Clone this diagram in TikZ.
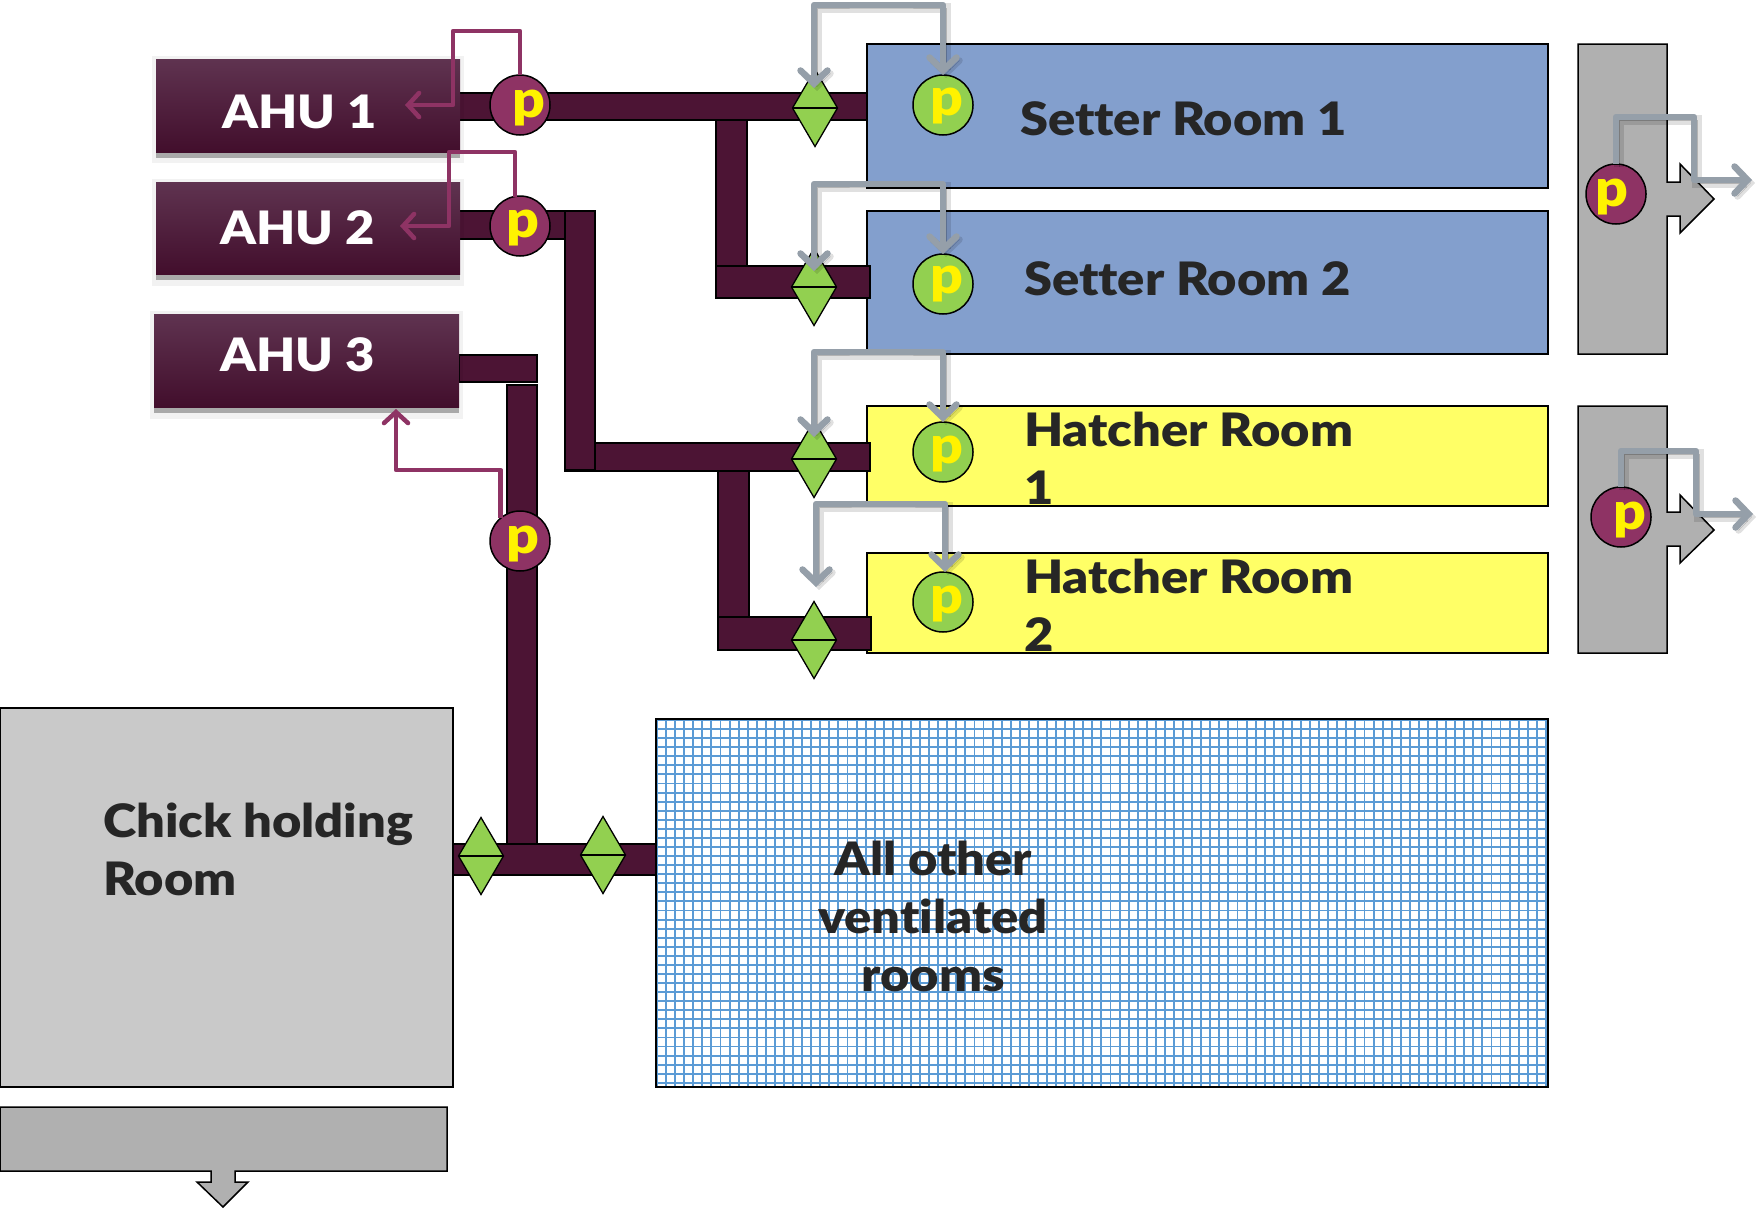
\documentclass[tikz,border=0pt]{standalone}
\usepackage{fontspec}
\setmainfont{Lato}[BoldFont={Lato Black},BoldFeatures={FakeStretch=1.1},Ligatures=NoCommon]
\usetikzlibrary{arrows.meta,shapes.geometric,shadows}
\definecolor{pipec}{HTML}{4C1434}
\definecolor{pumpc}{HTML}{8E3364}
\definecolor{greenc}{HTML}{92D050}
\definecolor{bluec}{HTML}{839FCD}
\definecolor{yellowc}{HTML}{FFFF66}
\definecolor{panelc}{HTML}{B0B0B0}
\definecolor{chickc}{HTML}{C9C9C9}
\definecolor{gridc}{HTML}{5B9BD5}
\definecolor{greyline}{HTML}{959FA9}
\definecolor{textc}{HTML}{262626}
\definecolor{ahutop}{HTML}{5F3350}
\definecolor{ahubot}{HTML}{420E2C}
\tikzset{
 bigtext/.style={font=\fontsize{46}{58}\selectfont\bfseries,text=textc,inner sep=0pt},
 ahubox/.style={rectangle,draw=none,inner sep=0pt,outer sep=0pt,top color=ahutop,bottom color=ahubot,
   drop shadow={shadow xshift=0pt,shadow yshift=-6pt,fill=black,opacity=.3}},
 halo/.style={fill=black,opacity=.05},
 ahutext/.style={font=\fontsize{46}{58}\selectfont\bfseries,text=white,inner sep=0pt,anchor=base west},
 pipe/.style={fill=pipec,draw=black,line width=1.4pt},
 room/.style={draw=black,line width=1.5pt,outer sep=0pt},
 pumpnode/.style={circle,draw=black,line width=1.5pt,minimum size=60pt,inner sep=0pt,outer sep=0pt},
 ptext/.style={font=\fontsize{52}{52}\selectfont\bfseries,text=yellow,inner sep=0pt},
 valve/.style={diamond,draw=black,fill=greenc,line width=1.3pt,minimum width=45pt,minimum height=77pt,inner sep=0pt,outer sep=0pt},
 purplearrow/.style={draw=pumpc,line width=4.5pt,line join=round,-{Straight Barb[length=11pt,width=24pt,line width=4.5pt,line cap=round]}},
 greytip/.style={line width=6.5pt,line join=round,
   preaction={draw=black,draw opacity=.12,line width=10pt,transform canvas={xshift=3pt,yshift=-3pt}},
   preaction={draw=black,draw opacity=.2,transform canvas={xshift=3pt,yshift=-3pt}}},
 greyarrow/.style={greytip,draw=greyline,
   {Straight Barb[length=13pt,width=27pt,line width=6.5pt,line cap=round]}-{Straight Barb[length=13pt,width=27pt,line width=6.5pt,line cap=round]}},
 greyarrowone/.style={greytip,draw=greyline,
   -{Straight Barb[length=13pt,width=27pt,line width=6.5pt,line cap=round]}},
}
\begin{document}
\begin{tikzpicture}[x=1pt,y=-1pt]
\useasboundingbox (0,0) rectangle (1760,1210);
% rooms
\node[room,fill=bluec,anchor=north west,inner sep=0pt,minimum width=681pt,minimum height=144pt] (setter1) at (867,44) {};
\node[room,fill=bluec,anchor=north west,inner sep=0pt,minimum width=681pt,minimum height=143pt] (setter2) at (867,211) {};
\node[room,fill=yellowc,anchor=north west,inner sep=0pt,minimum width=681pt,minimum height=100pt] (hatch1) at (867,406) {};
\node[room,fill=yellowc,anchor=north west,inner sep=0pt,minimum width=681pt,minimum height=100pt] (hatch2) at (867,553) {};
\node[room,fill=chickc,anchor=north west,inner sep=0pt,minimum width=453pt,minimum height=379pt] (chick) at (0,708) {};
% grid room
\fill[white] (656,719) rectangle (1548,1087);
\begin{scope}
\clip (656,719) rectangle (1548,1087);
\foreach \i in {0,...,99} {\draw[gridc,line width=1.9pt] ({657+9.07*\i},719) -- ({657+9.07*\i},1087);}
\foreach \i in {0,...,41} {\draw[gridc,line width=1.9pt] (656,{720+9.07*\i}) -- (1548,{720+9.07*\i});}
\end{scope}
\node[room,anchor=north west,inner sep=0pt,minimum width=892pt,minimum height=368pt] (others) at (656,719) {};
% exhaust panels
\draw[room,fill=panelc] (1578,44) -- (1667,44) -- (1667,182) -- (1680,182) -- (1680,164) -- (1714,199) -- (1680,233) -- (1680,216) -- (1667,216) -- (1667,354) -- (1578,354) -- cycle;
\draw[room,fill=panelc] (1578,406) -- (1667,406) -- (1667,512) -- (1680,512) -- (1680,495) -- (1714,530) -- (1680,563) -- (1680,546) -- (1667,546) -- (1667,653) -- (1578,653) -- cycle;
\draw[room,fill=panelc] (0,1107) -- (447,1107) -- (447,1171) -- (235,1171) -- (235,1182) -- (248,1182) -- (223,1207) -- (197,1182) -- (211,1182) -- (211,1171) -- (0,1171) -- cycle;
% pipes
\draw[pipe] (716,120) rectangle (747,266);
\draw[pipe] (716,266) rectangle (870,298);
\draw[pipe] (457,93) rectangle (867,120);
\draw[pipe] (457,211) rectangle (565,239);
\draw[pipe] (718,471) rectangle (749,617);
\draw[pipe] (718,617) rectangle (871,650);
\draw[pipe] (565,443) rectangle (870,471);
\draw[pipe] (565,211) rectangle (595,470);
\draw[pipe] (459,355) rectangle (537,382);
\draw[pipe] (507,385) rectangle (537,844);
\draw[pipe] (453,844) rectangle (656,875);
% AHU
\fill[halo] (152,56) rectangle (464,163);
\fill[halo] (152,179) rectangle (464,286);
\fill[halo] (150,311) rectangle (463,419);
\node[ahubox,anchor=north west,minimum width=304pt,minimum height=93pt] (ahu1) at (156,59) {};
\node[ahubox,anchor=north west,minimum width=304pt,minimum height=92pt] (ahu2) at (156,182) {};
\node[ahubox,anchor=north west,minimum width=305pt,minimum height=93pt] (ahu3) at (154,314) {};
\node[ahutext] (ahu1t) at (222,128) {AHU 1};
\node[ahutext] (ahu2t) at (220,244) {AHU 2};
\node[ahutext] (ahu3t) at (220,371) {AHU 3};
% valves
\foreach \n/\x/\y in {v1/815/108,v2/814/287,v3/814/459,v4/814/640,v5/481/856,v6/603/855}{
  \node[valve] (\n) at (\x,\y) {};
  \draw[line width=1.3pt] (\n.west) -- (\n.east);
}
% pumps
\node[pumpnode,fill=pumpc] (p1) at (520,105) {};
\node[pumpnode,fill=pumpc] (p2) at (520,226) {};
\node[pumpnode,fill=pumpc] (p3) at (520,541) {};
\node[pumpnode,fill=pumpc] (p4) at (1616,194) {};
\node[pumpnode,fill=pumpc] (p5) at (1621,517) {};
\node[pumpnode,fill=greenc] (g1) at (943,105) {};
\node[pumpnode,fill=greenc] (g2) at (943,284) {};
\node[pumpnode,fill=greenc] (g3) at (943,452) {};
\node[pumpnode,fill=greenc] (g4) at (943,602) {};
\node[ptext] (p1t) at (529,108) {p};
\node[ptext] (p2t) at (523,228) {p};
\node[ptext] (p3t) at (523,544) {p};
\node[ptext] (p4t) at (1612,197) {p};
\node[ptext] (p5t) at (1630,520) {p};
\node[ptext] (g1t) at (947,106) {p};
\node[ptext] (g2t) at (947,284) {p};
\node[ptext] (g3t) at (947,454) {p};
\node[ptext] (g4t) at (947,604) {p};
% purple arrows
\coordinate (c1a) at (453,31); \coordinate (c1b) at (405,105);
\draw[purplearrow] (p1.north) |- (c1a) |- (c1b);
\coordinate (c2a) at (449,152); \coordinate (c2b) at (400,226); \coordinate (c2s) at (515,197);
\draw[purplearrow] (c2s) |- (c2a) |- (c2b);
\coordinate (c3a) at (396,470); \coordinate (c3b) at (396,409);
\draw[purplearrow] (p3.130) |- (c3a) -- (c3b);
% grey arrows
\coordinate (a1v) at (814,88); \coordinate (a1t) at (878,5);
\draw[greyarrow] (a1v) |- (a1t) -| (g1.north);
\coordinate (a2v) at (814,271); \coordinate (a2t) at (878,184);
\draw[greyarrow] (a2v) |- (a2t) -| (g2.north);
\coordinate (a3v) at (814,437); \coordinate (a3t) at (878,352);
\draw[greyarrow] (a3v) |- (a3t) -| (g3.north);
\coordinate (a4v) at (816,587); \coordinate (a4t) at (880,504); \coordinate (a4g) at (945,572);
\draw[greyarrow] (a4v) |- (a4t) -| (a4g);
\coordinate (a5t) at (1694,117); \coordinate (a5m) at (1694,180); \coordinate (a5e) at (1752,180);
\draw[greyarrowone] (p4.north) |- (a5t) -- (a5m) -- (a5e);
\coordinate (a6t) at (1696,451); \coordinate (a6m) at (1696,514); \coordinate (a6e) at (1753,514);
\draw[greyarrowone] (p5.north) |- (a6t) -- (a6m) -- (a6e);
% labels
\node[bigtext,anchor=base west] (s1t) at (1020,135) {Setter Room 1};
\node[bigtext,anchor=base west] (s2t) at (1024,295) {Setter Room 2};
\node[bigtext,anchor=north west,align=left] (h1t) at (1024,412) {Hatcher Room\\1};
\node[bigtext,anchor=north west,align=left] (h2t) at (1024,559) {Hatcher Room\\2};
\node[bigtext,anchor=north west,align=left] (ct) at (103,803) {Chick holding\\Room};
\node[bigtext,anchor=north,align=center] (ot) at (933,841) {All other\\ventilated\\rooms};
\end{tikzpicture}
\end{document}
